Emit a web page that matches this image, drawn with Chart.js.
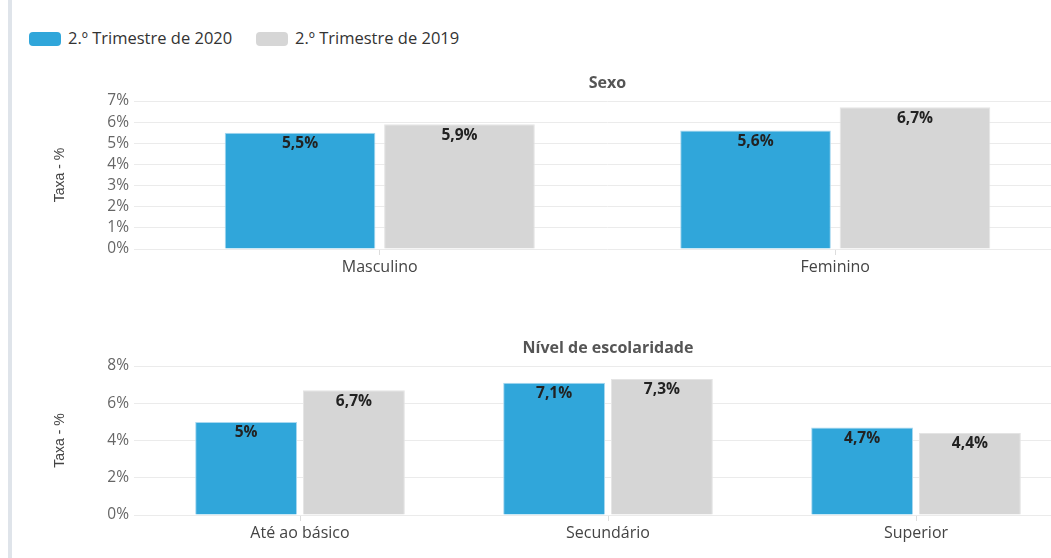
<!DOCTYPE html>
<html>
<head>
<meta charset="utf-8">
<script src="https://cdn.jsdelivr.net/npm/chart.js@4.4.1/dist/chart.umd.min.js"></script>
<style>
  html, body { margin: 0; padding: 0; background: #fff; width: 1051px; height: 558px; overflow: hidden; position: relative; }
  #edge { position: absolute; left: 8px; top: 0; width: 4px; height: 558px; background: #dfe4ea; }
  #legend { position: absolute; left: 29px; top: 29px; font-family: 'Open Sans', sans-serif; font-size: 16.5px; color: #333; }
  .item { position: absolute; top: 0; white-space: nowrap; line-height: 18px; }
  .box { display: inline-block; width: 32px; height: 14px; border-radius: 4px; vertical-align: -2px; margin-right: 7px; }
  #wrap1 { position: absolute; left: 0; top: 60px; width: 1063px; height: 219px; }
  #wrap2 { position: absolute; left: 0; top: 320px; width: 1070px; height: 225px; }
</style>
</head>
<body>
<div id="edge"></div>
<div id="legend"></div>
<div id="wrap1"><canvas id="sexoChart"></canvas></div>
<div id="wrap2"><canvas id="escolaChart"></canvas></div>
<script>
// dados
const seriesNames = ["2.º Trimestre de 2020", "2.º Trimestre de 2019"];
const seriesColors = ["#30a6da", "#d6d6d6"];
const seriesBorders = ["#a8d8f0", "#e4e4e4"];

const sexoLabels = ["Masculino", "Feminino"];
const sexo2020 = [5.5, 5.6];
const sexo2019 = [5.9, 6.7];

const escolaLabels = ["Até ao básico", "Secundário", "Superior"];
const escola2020 = [5, 7.1, 4.7];
const escola2019 = [6.7, 7.3, 4.4];

const FONT = "'Open Sans', Lato, sans-serif";

// legenda em html
const legendEl = document.getElementById("legend");
const legendX = [0, 227];
seriesNames.forEach((name, i) => {
    const item = document.createElement("div");
    item.className = "item";
    item.style.left = legendX[i] + "px";
    item.innerHTML = '<span class="box" style="background:' + seriesColors[i] + '"></span>' + name;
    legendEl.appendChild(item);
});

// rótulos de valor dentro das barras + título centrado na área do gráfico
const valueLabels = {
    id: "valueLabels",
    afterDatasetsDraw(chart, args, opts) {
        const ctx = chart.ctx;
        const area = chart.chartArea;
        ctx.save();
        ctx.textAlign = "center";
        ctx.textBaseline = "middle";
        ctx.font = "bold 16px " + FONT;
        ctx.fillStyle = "#555";
        ctx.fillText(opts.title, (area.left + area.right) / 2, area.top - 18);

        ctx.font = "bold 15.5px " + FONT;
        ctx.fillStyle = "#222";
        chart.data.datasets.forEach((ds, di) => {
            chart.getDatasetMeta(di).data.forEach((bar, i) => {
                const txt = String(ds.data[i]).replace(".", ",") + "%";
                ctx.fillText(txt, bar.x, bar.y + 11);
            });
        });
        ctx.restore();
    }
};

function makeChart(canvasId, labels, d2020, d2019, title, yMax, yStep, axisWidth, catPct, padTop) {
    const ctx = document.getElementById(canvasId).getContext("2d");
    return new Chart(ctx, {
        type: "bar",
        data: {
            labels: labels,
            datasets: [
                {
                    label: seriesNames[0],
                    data: d2020,
                    backgroundColor: seriesColors[0],
                    borderColor: seriesBorders[0],
                    borderWidth: 1,
                    categoryPercentage: catPct,
                    barPercentage: 0.945
                },
                {
                    label: seriesNames[1],
                    data: d2019,
                    backgroundColor: seriesColors[1],
                    borderColor: seriesBorders[1],
                    borderWidth: 1,
                    categoryPercentage: catPct,
                    barPercentage: 0.945
                }
            ]
        },
        options: {
            responsive: true,
            maintainAspectRatio: false,
            animation: false,
            layout: { padding: { left: 0, right: 0, top: padTop, bottom: 0 } },
            plugins: {
                legend: { display: false },
                tooltip: { enabled: false },
                title: { display: false },
                valueLabels: { title: title }
            },
            scales: {
                x: {
                    afterFit(scale) { scale.height = 30; },
                    grid: { display: true, drawOnChartArea: false, offset: false, tickLength: 6, color: "#dddddd" },
                    border: { display: false },
                    ticks: { color: "#444", font: { family: FONT, size: 16 }, padding: 3 }
                },
                y: {
                    min: 0,
                    max: yMax,
                    afterFit(scale) { scale.width = axisWidth; },
                    grid: { color: "#ebebeb", tickLength: axisWidth - 134 },
                    border: { display: false },
                    ticks: {
                        stepSize: yStep,
                        autoSkip: false,
                        color: "#666",
                        padding: 5,
                        font: { family: FONT, size: 15.5 },
                        callback: v => v + "%"
                    },
                    title: {
                        display: true,
                        text: "Taxa - %",
                        color: "#444",
                        font: { family: "'Liberation Sans Narrow', 'Liberation Sans', sans-serif", size: 14 },
                        padding: { top: 52, bottom: 0 }
                    }
                }
            }
        },
        plugins: [valueLabels]
    });
}

makeChart("sexoChart", sexoLabels, sexo2020, sexo2019, "Sexo", 7, 1, 152, 0.70, 41);
makeChart("escolaChart", escolaLabels, escola2020, escola2019, "Nível de escolaridade", 8, 2, 146, 0.70, 46);
</script>
</body>
</html>
